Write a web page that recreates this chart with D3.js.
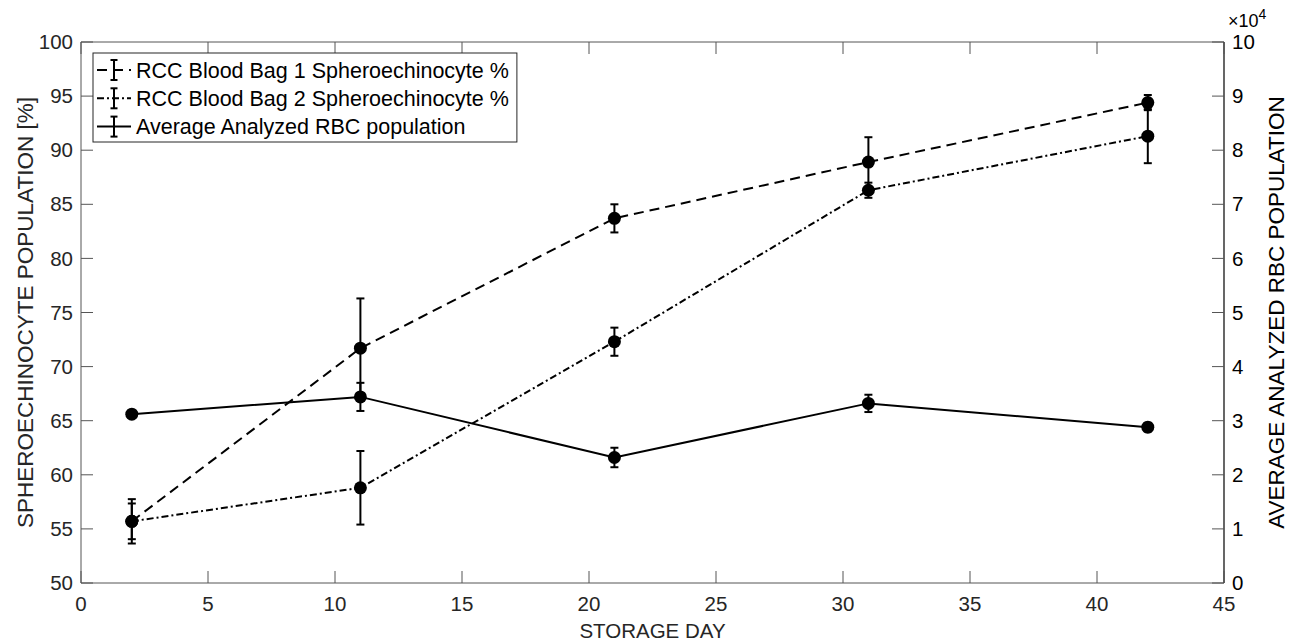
<!DOCTYPE html>
<html>
<head>
<meta charset="utf-8">
<script src="https://cdn.jsdelivr.net/npm/d3@7"></script>
<style>
  html, body { margin: 0; padding: 0; background: #fff; }
  svg { display: block; font-family: "Liberation Sans", Arial, Helvetica, sans-serif; }
</style>
</head>
<body>
<svg id="chart" width="1291" height="642"></svg>
<script>
// storage days and measured values
const days = [2, 11, 21, 31, 42];
const bag1Pct = [55.7, 71.7, 83.7, 88.9, 94.4];
const bag1Err = [2.05, 4.6, 1.3, 2.3, 0.7];
const bag2Pct = [55.7, 58.8, 72.3, 86.3, 91.3];
const bag2Err = [1.65, 3.4, 1.3, 0.7, 2.5];
const rbcAvg = [31200, 34400, 23200, 33200, 28800];
const rbcErr = [200, 2600, 1800, 1600, 800];

const xTicks = [0, 5, 10, 15, 20, 25, 30, 35, 40, 45];
const yLeftTicks = [50, 55, 60, 65, 70, 75, 80, 85, 90, 95, 100];
const yRightTicks = [0, 10000, 20000, 30000, 40000, 50000, 60000, 70000, 80000, 90000, 100000];

const legendLabels = [
  "RCC Blood Bag 1 Spheroechinocyte %",
  "RCC Blood Bag 2 Spheroechinocyte %",
  "Average Analyzed RBC population"
];

const svg = d3.select("#chart");
const L = 81, R = 1224, T = 42, B = 583;
const axisGray = "#555";
const textGray = "#262626";
const fs = 20.5;
const titleFs = 22.5;

const x = d3.scaleLinear().domain([0, 45]).range([L, R]);
const yL = d3.scaleLinear().domain([50, 100]).range([B, T]);
const yR = d3.scaleLinear().domain([0, 100000]).range([B, T]);

const dashStyles = ["10,6", "7,3,2,3", null];

// axes box lines
svg.append("line").attr("x1", L).attr("x2", R).attr("y1", T).attr("y2", T)
  .attr("stroke", axisGray).attr("stroke-width", 1);
svg.append("line").attr("x1", L).attr("x2", R).attr("y1", B).attr("y2", B)
  .attr("stroke", axisGray).attr("stroke-width", 1);
svg.append("line").attr("x1", L).attr("x2", L).attr("y1", T).attr("y2", B)
  .attr("stroke", axisGray).attr("stroke-width", 1);
svg.append("line").attr("x1", R).attr("x2", R).attr("y1", T).attr("y2", B)
  .attr("stroke", "#000").attr("stroke-width", 1.2);

// x ticks (bottom and top, inward)
const tl = 12;
xTicks.forEach(t => {
  svg.append("line").attr("x1", x(t)).attr("x2", x(t)).attr("y1", B).attr("y2", B - tl)
    .attr("stroke", axisGray);
  svg.append("line").attr("x1", x(t)).attr("x2", x(t)).attr("y1", T).attr("y2", T + tl)
    .attr("stroke", axisGray);
  svg.append("text").attr("x", x(t)).attr("y", B + 28).attr("text-anchor", "middle")
    .attr("font-size", fs).attr("fill", textGray).text(t);
});

yLeftTicks.forEach(t => {
  svg.append("line").attr("x1", L).attr("x2", L + tl).attr("y1", yL(t)).attr("y2", yL(t))
    .attr("stroke", axisGray);
  svg.append("text").attr("x", L - 8).attr("y", yL(t)).attr("dy", "0.35em")
    .attr("text-anchor", "end").attr("font-size", fs).attr("fill", textGray).text(t);
});

yRightTicks.forEach(t => {
  svg.append("line").attr("x1", R).attr("x2", R - tl).attr("y1", yR(t)).attr("y2", yR(t))
    .attr("stroke", axisGray);
  svg.append("text").attr("x", R + 8).attr("y", yR(t)).attr("dy", "0.35em")
    .attr("text-anchor", "start").attr("font-size", fs).attr("fill", "#000").text(t / 10000);
});

// exponent label
const ex = svg.append("text").attr("x", 1228).attr("y", 27).attr("font-size", 18).attr("fill", "#000");
ex.append("tspan").text("\u00d710");
ex.append("tspan").attr("dy", -8).attr("font-size", 14).text("4");

// axis titles
svg.append("text").attr("x", (L + R) / 2).attr("y", 638).attr("text-anchor", "middle")
  .attr("font-size", fs).attr("fill", textGray).text("STORAGE DAY");
svg.append("text").attr("transform", `translate(33,${(T + B) / 2}) rotate(-90)`)
  .attr("text-anchor", "middle").attr("font-size", titleFs).attr("fill", textGray)
  .text("SPHEROECHINOCYTE POPULATION [%]");
svg.append("text").attr("transform", `translate(1284,${(T + B) / 2}) rotate(-90)`)
  .attr("text-anchor", "middle").attr("font-size", titleFs).attr("fill", "#000")
  .text("AVERAGE ANALYZED RBC POPULATION");

// series
const series = [
  { vals: bag1Pct, err: bag1Err, y: yL, dash: dashStyles[0] },
  { vals: bag2Pct, err: bag2Err, y: yL, dash: dashStyles[1] },
  { vals: rbcAvg, err: rbcErr, y: yR, dash: dashStyles[2] }
];

const plot = svg.append("g");
series.forEach(s => {
  const pts = days.map((d, i) => ({ d, v: s.vals[i], e: s.err[i] }));
  const line = d3.line().x(p => x(p.d)).y(p => s.y(p.v));
  plot.append("path").datum(pts).attr("d", line)
    .attr("fill", "none").attr("stroke", "#000").attr("stroke-width", 2)
    .attr("stroke-dasharray", s.dash);
  const eb = plot.selectAll(null).data(pts).enter().append("g");
  eb.append("line")
    .attr("x1", p => x(p.d)).attr("x2", p => x(p.d))
    .attr("y1", p => s.y(p.v - p.e)).attr("y2", p => s.y(p.v + p.e))
    .attr("stroke", "#000").attr("stroke-width", 2);
  [-1, 1].forEach(sg => {
    eb.append("line")
      .attr("x1", p => x(p.d) - 4).attr("x2", p => x(p.d) + 4)
      .attr("y1", p => s.y(p.v + sg * p.e)).attr("y2", p => s.y(p.v + sg * p.e))
      .attr("stroke", "#000").attr("stroke-width", 2);
  });
  eb.append("circle").attr("cx", p => x(p.d)).attr("cy", p => s.y(p.v)).attr("r", 6.5)
    .attr("fill", "#000");
});

// legend
const lg = svg.append("g");
const lgX = 93, lgY = 53, lgH = 89;
const lgBox = lg.append("rect").attr("x", lgX).attr("y", lgY).attr("height", lgH)
  .attr("fill", "#fff").attr("stroke", textGray).attr("stroke-width", 1);
let maxRight = 0;
legendLabels.forEach((lab, i) => {
  const cy = 70 + i * 28.3;
  lg.append("line").attr("x1", 97).attr("x2", 131).attr("y1", cy).attr("y2", cy)
    .attr("stroke", "#000").attr("stroke-width", 2).attr("stroke-dasharray", dashStyles[i]);
  lg.append("line").attr("x1", 114).attr("x2", 114).attr("y1", cy - 10).attr("y2", cy + 10)
    .attr("stroke", "#000").attr("stroke-width", 2);
  [-10, 10].forEach(o => {
    lg.append("line").attr("x1", 110.5).attr("x2", 117.5).attr("y1", cy + o).attr("y2", cy + o)
      .attr("stroke", "#000").attr("stroke-width", 2);
  });
  const tx = lg.append("text").attr("x", 136).attr("y", cy).attr("dy", "0.35em")
    .attr("font-size", 21.5).attr("fill", "#000").text(lab);
  const bb = tx.node().getBBox();
  maxRight = Math.max(maxRight, bb.x + bb.width);
});
lgBox.attr("width", maxRight + 8 - lgX);
</script>
</body>
</html>
